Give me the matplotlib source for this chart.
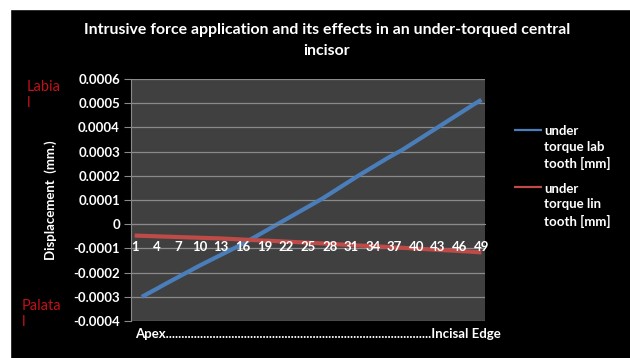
import numpy as np
import matplotlib
matplotlib.use("Agg")
import matplotlib.pyplot as plt
from matplotlib.ticker import FuncFormatter, FixedLocator
from matplotlib.patches import Rectangle

plt.rcParams.update({
    "font.family": "Lato", "font.weight": "bold", "font.size": 9,
    "axes.labelweight": "bold", "axes.unicode_minus": False,
})

# position along the tooth, apex (1) to incisal edge (49)
positions = list(range(1, 50))
# labial displacement, no reading at the first node
lab_tooth = [np.nan,
    -0.000300, -0.000284, -0.000268, -0.000251, -0.000235, -0.000219, -0.000203, -0.000187,
    -0.000171, -0.000156, -0.000141, -0.000126, -0.000111, -0.000096, -0.000080, -0.000064,
    -0.000047, -0.000030, -0.000013, 0.000004, 0.000021, 0.000038, 0.000055, 0.000072,
    0.000089, 0.000106, 0.000125, 0.000144, 0.000163, 0.000182, 0.000201, 0.000219,
    0.000237, 0.000255, 0.000273, 0.000290, 0.000306, 0.000325, 0.000344, 0.000363,
    0.000382, 0.000401, 0.000420, 0.000439, 0.000458, 0.000477, 0.000496, 0.000514]
lin_tooth = [
    -0.0000470, -0.0000480, -0.0000490, -0.0000500, -0.0000510, -0.0000520, -0.0000530,
    -0.0000540, -0.0000550, -0.0000560, -0.0000570, -0.0000580, -0.0000590, -0.0000605,
    -0.0000620, -0.0000635, -0.0000650, -0.0000665, -0.0000680, -0.0000690, -0.0000705,
    -0.0000720, -0.0000735, -0.0000750, -0.0000765, -0.0000780, -0.0000795, -0.0000810,
    -0.0000830, -0.0000845, -0.0000860, -0.0000880, -0.0000895, -0.0000910, -0.0000925,
    -0.0000940, -0.0000960, -0.0000975, -0.0000990, -0.0001010, -0.0001025, -0.0001040,
    -0.0001060, -0.0001075, -0.0001090, -0.0001110, -0.0001125, -0.0001145, -0.0001165]
x_labels = positions[::3]
y_ticks = [-0.0004, -0.0003, -0.0002, -0.0001, 0, 0.0001, 0.0002, 0.0003, 0.0004, 0.0005, 0.0006]

BLUE = "#4a7ebb"
RED = "#be4b48"
GRID = "#8a8a8a"
LABEL_RED = "#c0101a"

fig = plt.figure(figsize=(6.3, 3.58), dpi=100, facecolor="black")
# white margin strips on the left and top
fig.patches.append(Rectangle((0, 0), 10 / 630, 1, transform=fig.transFigure, color="white", zorder=0))
fig.patches.append(Rectangle((0, 1 - 9 / 358), 1, 9 / 358, transform=fig.transFigure, color="white", zorder=0))

ax = fig.add_axes([131 / 630, 37 / 358, 354 / 630, 242 / 358])
ax.set_facecolor("#404040")

# gridlines under the series, tick labels over them
ax.hlines(y_ticks, 0.5, 49.5, color=GRID, lw=0.9, zorder=0.5)
ax.plot(positions, lab_tooth, color=BLUE, lw=3.0, solid_capstyle="butt", zorder=1, label="under\ntorque lab\ntooth [mm]")
ax.plot(positions, lin_tooth, color=RED, lw=3.0, solid_capstyle="butt", zorder=1, label="under\ntorque lin\ntooth [mm]")

ax.set_xlim(0.5, 49.5)
ax.set_ylim(-0.0004, 0.0006)
ax.yaxis.set_major_locator(FixedLocator(y_ticks))
ax.yaxis.set_major_formatter(FuncFormatter(lambda v, p: "0" if abs(v) < 1e-12 else f"{v:.4f}"))
ax.set_xticks(x_labels)
ax.set_xticklabels([str(v) for v in x_labels])

for s in ["top", "right"]:
    ax.spines[s].set_visible(False)
ax.spines["left"].set_color(GRID)
ax.spines["bottom"].set_position(("data", 0))
ax.spines["bottom"].set_color(GRID)
ax.tick_params(axis="y", colors="white", length=5, color=GRID, labelsize=9.5, pad=3)
ax.tick_params(axis="x", colors="white", length=0, labelsize=9.5, pad=12)

ax.set_ylabel("Displacement  (mm.)", color="white", fontsize=9.5)
ax.yaxis.set_label_coords(-74 / 354, 0.5)

fig.text(327 / 630, 1 - 30 / 358, "Intrusive force application and its effects in an under-torqued central",
         color="white", fontsize=11.4, ha="center", va="center")
fig.text(327 / 630, 1 - 51 / 358, "incisor", color="white", fontsize=11.4, ha="center", va="center")

fig.text(27 / 630, 1 - 95 / 358, "Labia\nl", color=LABEL_RED, fontsize=10.5, ha="left", va="center",
         fontweight="normal", linespacing=1.2)
fig.text(22 / 630, 1 - 314 / 358, "Palata\nl", color=LABEL_RED, fontsize=10.5, ha="left", va="center",
         fontweight="normal", linespacing=1.2)

fig.text(135 / 630, 1 - 334 / 358, "Apex" + "." * 85 + "Incisal Edge", color="white",
         fontsize=9.5, ha="left", va="center")

leg = fig.legend(loc="upper left", bbox_to_anchor=(514 / 630, 1 - 125 / 358), frameon=False,
                 borderpad=0, borderaxespad=0, handlelength=2.1, handletextpad=0.2,
                 labelspacing=0.95, fontsize=9.5, labelcolor="white")
for line in leg.get_lines():
    line.set_linewidth(1.6)
for t in leg.get_texts():
    t.set_linespacing(1.38)
# pin each handle to the first text line
for col in leg._legend_handle_box.get_children():
    for row in col.get_children():
        row.align = "top"

fig.savefig("out.png", dpi=100, facecolor="black")
